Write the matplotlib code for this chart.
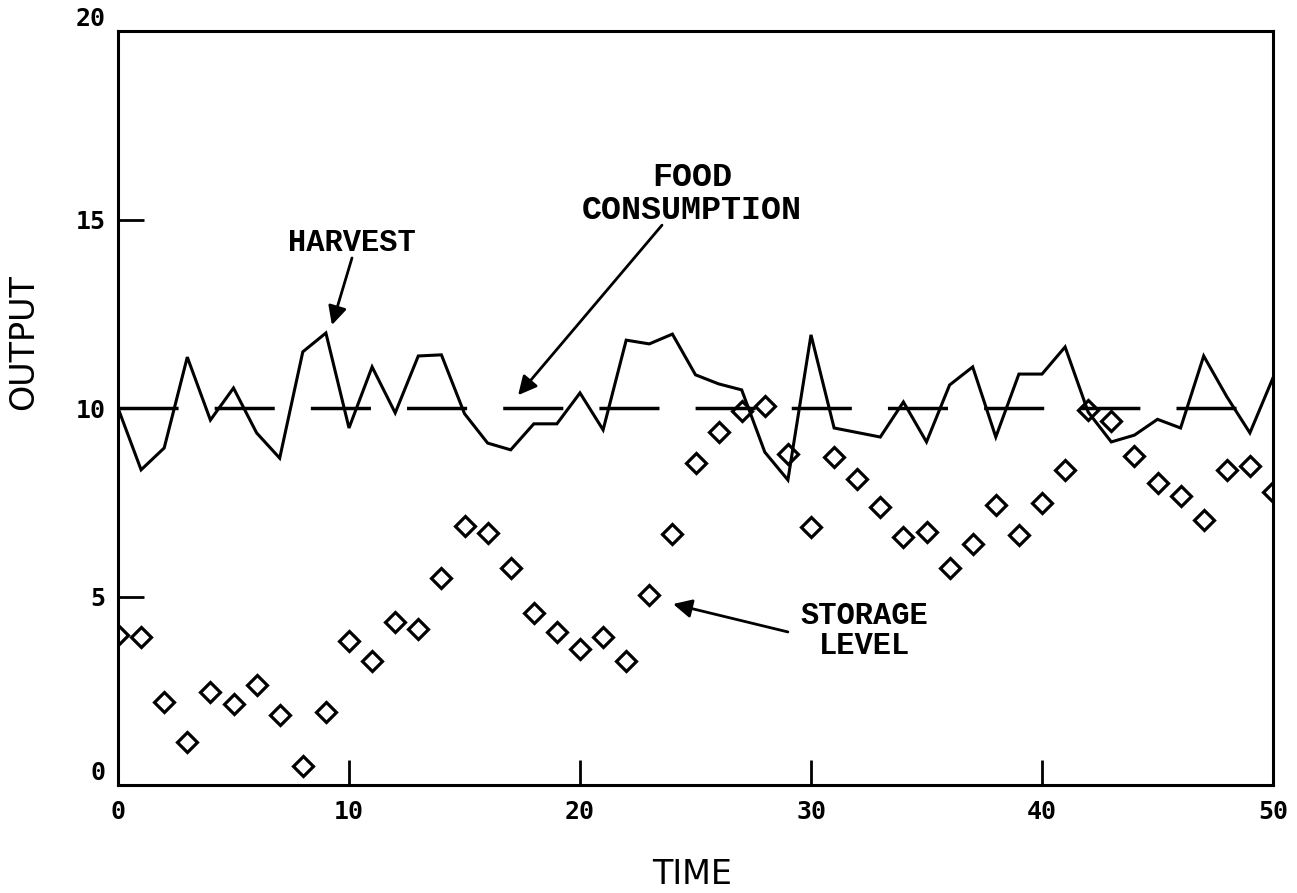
import numpy as np
import matplotlib.pyplot as plt

# harvest / food consumption / storage level
time = np.arange(0, 51)

harvest = [10.0, 8.36, 8.94, 11.35, 9.68, 10.53, 9.34, 8.67, 11.49, 11.99,
           9.47, 11.09, 9.87, 11.38, 11.41, 9.85, 9.07, 8.89, 9.58, 9.58,
           10.4, 9.42, 11.8, 11.7, 11.96, 10.88, 10.64, 10.48, 8.83, 8.09,
           11.94, 9.47, 9.35, 9.23, 10.16, 9.1, 10.61, 11.09, 9.23, 10.9,
           10.9, 11.62, 9.89, 9.1, 9.28, 9.7, 9.47, 11.38, 10.3, 9.34, 10.8]

storage = [3.98, 3.93, 2.2, 1.14, 2.47, 2.15, 2.65, 1.86, 0.5, 1.94,
           3.82, 3.29, 4.32, 4.14, 5.49, 6.87, 6.68, 5.76, 4.56, 4.06,
           3.6, 3.93, 3.29, 5.04, 6.66, 8.54, 9.36, 9.92, 10.05, 8.78,
           6.84, 8.7, 8.12, 7.37, 6.58, 6.71, 5.76, 6.39, 7.43, 6.63,
           7.48, 8.36, 9.95, 9.66, 8.73, 8.01, 7.67, 7.03, 8.36, 8.46, 7.77]

consumption_time = [0, 50]
consumption = [10, 10]

xticks = [0, 10, 20, 30, 40, 50]
yticks = [0, 5, 10, 15, 20]

fig = plt.figure(figsize=(12.97, 8.93), dpi=100)
ax = fig.add_axes([118/1297, 1-785/893, 1155/1297, 754/893])

ax.plot(time, harvest, color='black', lw=2.2, solid_joinstyle='miter')
cons, = ax.plot(consumption_time, consumption, color='black', lw=2.5)
cons.set_dashes((17.3, 10.4))
ax.plot(time, storage, ls='none', marker='D', ms=10, mfc='none',
        mec='black', mew=2.3)

ax.set_xlim(0, 50)
ax.set_ylim(0, 20)
ax.set_xticks(xticks)
ax.set_yticks(yticks)
ax.set_xticklabels([str(v) for v in xticks], family='DejaVu Sans Mono',
                   fontsize=18, fontweight='bold')
ylabs = ax.set_yticklabels([str(v) for v in yticks], family='DejaVu Sans Mono',
                           fontsize=18, fontweight='bold')
# the end labels sit a bit above their ticks in the original
ylabs[0].set_va('bottom')
ylabs[-1].set_va('bottom')
ax.tick_params(axis='x', direction='in', length=18, width=2, pad=11)
ax.tick_params(axis='y', direction='in', length=19, width=2, pad=9)
for s in ax.spines.values():
    s.set_linewidth(2.2)

ax.set_xlabel('TIME', fontsize=24)
ax.set_ylabel('OUTPUT', fontsize=24)
ax.xaxis.set_label_coords(0.497, -0.097)
ax.yaxis.set_label_coords(-0.0675, 0.587)

txt = dict(family='Liberation Mono', fontweight='bold', fontsize=22,
           ha='center', va='center', linespacing=1.0)
arr = dict(arrowstyle='-|>', color='black', lw=2, mutation_scale=28,
           shrinkA=0, shrinkB=0)

ax.text(10.13, 14.38, 'HARVEST', **txt)
ax.annotate('', xy=(9.26, 12.2), xytext=(10.13, 13.98), arrowprops=arr)

txt2 = dict(txt, fontsize=24, linespacing=1.1)
ax.text(24.85, 15.68, 'FOOD\nCONSUMPTION', **txt2)
ax.annotate('', xy=(17.32, 10.34), xytext=(23.55, 14.85), arrowprops=arr)

ax.text(32.3, 4.08, 'STORAGE\nLEVEL', **txt)
ax.annotate('', xy=(24.03, 4.8), xytext=(29.0, 4.06), arrowprops=arr)

fig.savefig('out.png', dpi=100)
